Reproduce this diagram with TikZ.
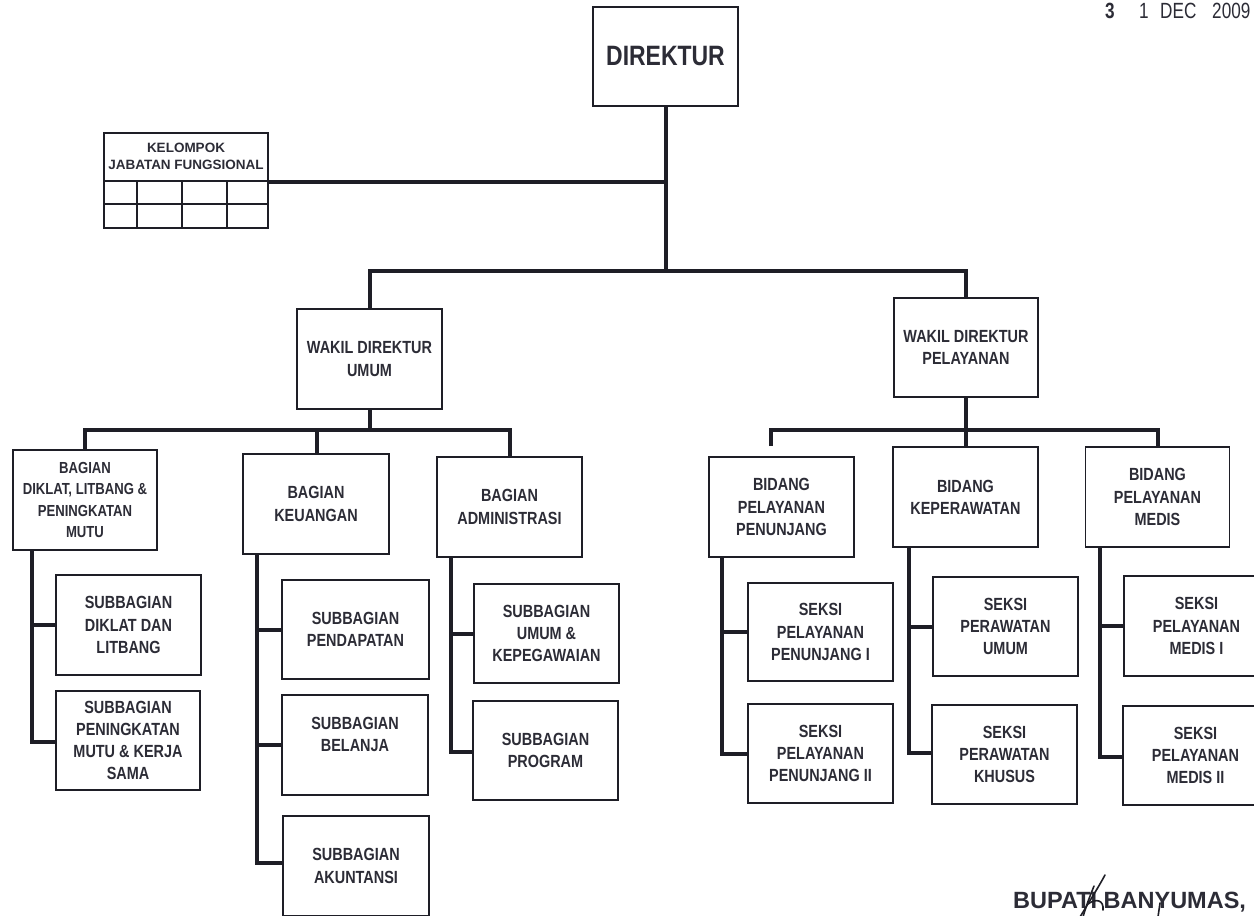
\documentclass[tikz,border=0pt]{standalone}
\usepackage{fontspec}
\setmainfont{Liberation Sans}[FakeStretch=0.82]
\newfontfamily\fullwidth{Liberation Sans}
\newfontfamily\stampfont{Liberation Sans}[FakeStretch=0.78]
\definecolor{ink}{HTML}{1E1E26}
\definecolor{txt}{HTML}{2C2C36}
\begin{document}
\begin{tikzpicture}[x=1pt,y=-1pt,
  box/.style={draw=ink, line width=1.8pt, fill=white, align=center, inner sep=0pt, text=txt,
    font=\bfseries\fontsize{17.6}{22.2}\selectfont, minimum width=145pt, minimum height=99pt},
  label text/.style={align=center, inner sep=0pt, text=txt, font=\bfseries\fontsize{17.6}{22.2}\selectfont},
  stamp/.style={anchor=base west, inner sep=0pt, text=txt, font=\stampfont\fontsize{22}{22}\selectfont},
  conn/.style={draw=ink, line width=4pt},
  gridline/.style={draw=ink, line width=1.6pt},
  sig/.style={draw=ink, line width=1.6pt, line cap=round}]
\useasboundingbox (0,0) rectangle (1254,916);
\clip (0,0) rectangle (1254,916);

% ---- top level ----
\node[box] (dir) at (665.5,56.5) {\fontsize{28}{30}\selectfont DIREKTUR};

% functional group: title area above a 2 x 4 grid
\node[draw=ink, line width=1.6pt, minimum width=164pt, minimum height=95pt, inner sep=0pt] (kel) at (186,180.5) {};
\node[align=center, inner sep=0pt, text=txt, font=\fullwidth\bfseries\fontsize{13.5}{17}\selectfont] (keltitle) at (186,156) {KELOMPOK\\JABATAN FUNGSIONAL};
\draw[gridline] (104,181) -- (268,181) (104,204) -- (268,204)
  (137,181) -- (137,228) (182,181) -- (182,228) (227,181) -- (227,228);

% ---- deputies ----
\node[box, minimum height=100pt] (wku) at (369.5,359) {WAKIL DIREKTUR\\UMUM};
\node[box, minimum width=144pt] (wkp) at (966,347.5) {WAKIL DIREKTUR\\PELAYANAN};

% ---- general affairs branch ----
\node[box, minimum width=144pt, minimum height=100pt, font=\bfseries\fontsize{16}{21.5}\selectfont] (bdk) at (85,500) {BAGIAN\\DIKLAT, LITBANG \&\\PENINGKATAN\\MUTU};
\node[box, minimum width=146pt, minimum height=100pt] (bku) at (316,504) {BAGIAN\\KEUANGAN};
\node[box, minimum height=100pt] (bad) at (509.5,507) {BAGIAN\\ADMINISTRASI};

\node[box, minimum height=100pt] (sdl) at (128.5,625) {SUBBAGIAN\\DIKLAT DAN\\LITBANG};
\node[box, minimum width=144pt] (spn) at (128,740.5) {SUBBAGIAN\\PENINGKATAN\\MUTU \& KERJA\\SAMA};

\node[box, minimum width=147pt] (spd) at (355.5,629.5) {SUBBAGIAN\\PENDAPATAN};
\node[box, minimum width=146pt, minimum height=100pt] (sbl) at (355,745) {};
\node[label text] (sbltext) at (355,734.5) {SUBBAGIAN\\BELANJA};
\node[box, minimum width=146pt, minimum height=100pt] (sak) at (356,866) {SUBBAGIAN\\AKUNTANSI};

\node[box] (sug) at (546.5,633.5) {SUBBAGIAN\\UMUM \&\\KEPEGAWAIAN};
\node[box] (spg) at (545.5,750.5) {SUBBAGIAN\\PROGRAM};

% ---- services branch ----
\node[box, minimum height=100pt] (bpp) at (781.5,507) {BIDANG\\PELAYANAN\\PENUNJANG};
\node[box, minimum height=100pt] (bkp) at (965.5,497) {BIDANG\\KEPERAWATAN};
\node[box, minimum width=144pt, minimum height=100pt] (bpm) at (1157.5,497) {BIDANG\\PELAYANAN\\MEDIS};

\node[box, minimum height=98pt] (spp1) at (820.5,632) {SEKSI\\PELAYANAN\\PENUNJANG I};
\node[box] (spp2) at (820.5,753.5) {SEKSI\\PELAYANAN\\PENUNJANG II};
\node[box] (spu) at (1005.5,626.5) {SEKSI\\PERAWATAN\\UMUM};
\node[box] (spk) at (1004.5,754.5) {SEKSI\\PERAWATAN\\KHUSUS};
\node[box, minimum height=100pt] (spm1) at (1196.5,626) {SEKSI\\PELAYANAN\\MEDIS I};
\node[box] (spm2) at (1195.5,755.5) {SEKSI\\PELAYANAN\\MEDIS II};

% ---- connectors: top ----
\coordinate (jTop) at (665.5,271);
\coordinate (jK) at (665.5,182);
\draw[conn] (dir.south) -- (jTop);
\draw[conn] (kel.east |- jK) -- (jK);
\draw[conn] (wku.north) |- (jTop) -| (wkp.north);

% ---- connectors: general affairs ----
\coordinate (jL) at (369.5,430);
\draw[conn] (wku.south) -- (jL);
\draw[conn] (bdk.north) |- (jL) -| ([xshift=0.5pt]bad.north);
\draw[conn] ([xshift=1pt]bku.north) -- ([xshift=1pt]bku.north |- jL);

\coordinate (sDk) at ([xshift=20pt]bdk.south west);
\draw[conn] (sDk) |- ([yshift=-1.5pt]spn.west);
\draw[conn] (sdl.west -| sDk) -- (sdl.west);

\coordinate (sKu) at ([xshift=15pt]bku.south west);
\draw[conn] (sKu) |- ([yshift=3pt]sak.west);
\draw[conn] (spd.west -| sKu) -- (spd.west);
\draw[conn] (sbl.west -| sKu) -- (sbl.west);

\coordinate (sAd) at ([xshift=15pt]bad.south west);
\draw[conn] (sAd) |- ([yshift=-1.5pt]spg.west);
\draw[conn] (sug.west -| sAd) -- (sug.west);

% ---- connectors: services ----
\coordinate (jR) at (966,430);
\draw[conn] (wkp.south) -- (jR);
\draw[conn] ([xshift=-10.5pt,yshift=10pt]bpp.north) |- (jR) -| ([xshift=0.5pt]bpm.north);
\draw[conn] ([xshift=0.5pt]bkp.north) -- ([xshift=0.5pt]bkp.north |- jR);

\coordinate (sPp) at ([xshift=14pt]bpp.south west);
\draw[conn] (sPp) |- (spp2.west);
\draw[conn] (spp1.west -| sPp) -- (spp1.west);

\coordinate (sKp) at ([xshift=17pt]bkp.south west);
\draw[conn] (sKp) |- ([yshift=1.5pt]spk.west);
\draw[conn] (spu.west -| sKp) -- (spu.west);

\coordinate (sPm) at ([xshift=15.5pt]bpm.south west);
\draw[conn] (sPm) |- ([yshift=-1.5pt]spm2.west);
\draw[conn] (spm1.west -| sPm) -- (spm1.west);

% ---- date stamp ----
\node[stamp, font=\stampfont\bfseries\fontsize{22}{22}\selectfont] (st3) at (1105,18.5) {3};
\node[stamp] (st1) at (1139,18.5) {1};
\node[stamp] (stm) at (1160,18.5) {DEC};
\node[stamp] (sty) at (1212,18.5) {2009};

% ---- signature block ----
\node[anchor=base west, inner sep=0pt, text=txt, font=\fullwidth\bfseries\fontsize{23.5}{24}\selectfont] (bupati) at (1013,908) {BUPATI BANYUMAS,};
\draw[sig] (1105,875) .. controls (1098,888) and (1089,902) .. (1080,917);
\draw[sig] (1094,886) .. controls (1090,896) and (1086,906) .. (1083,917);
\draw[sig] (1088,904) .. controls (1096,898) and (1104,900) .. (1103,910);
\draw[sig] (1160,903) -- (1158,917);
\end{tikzpicture}
\end{document}
